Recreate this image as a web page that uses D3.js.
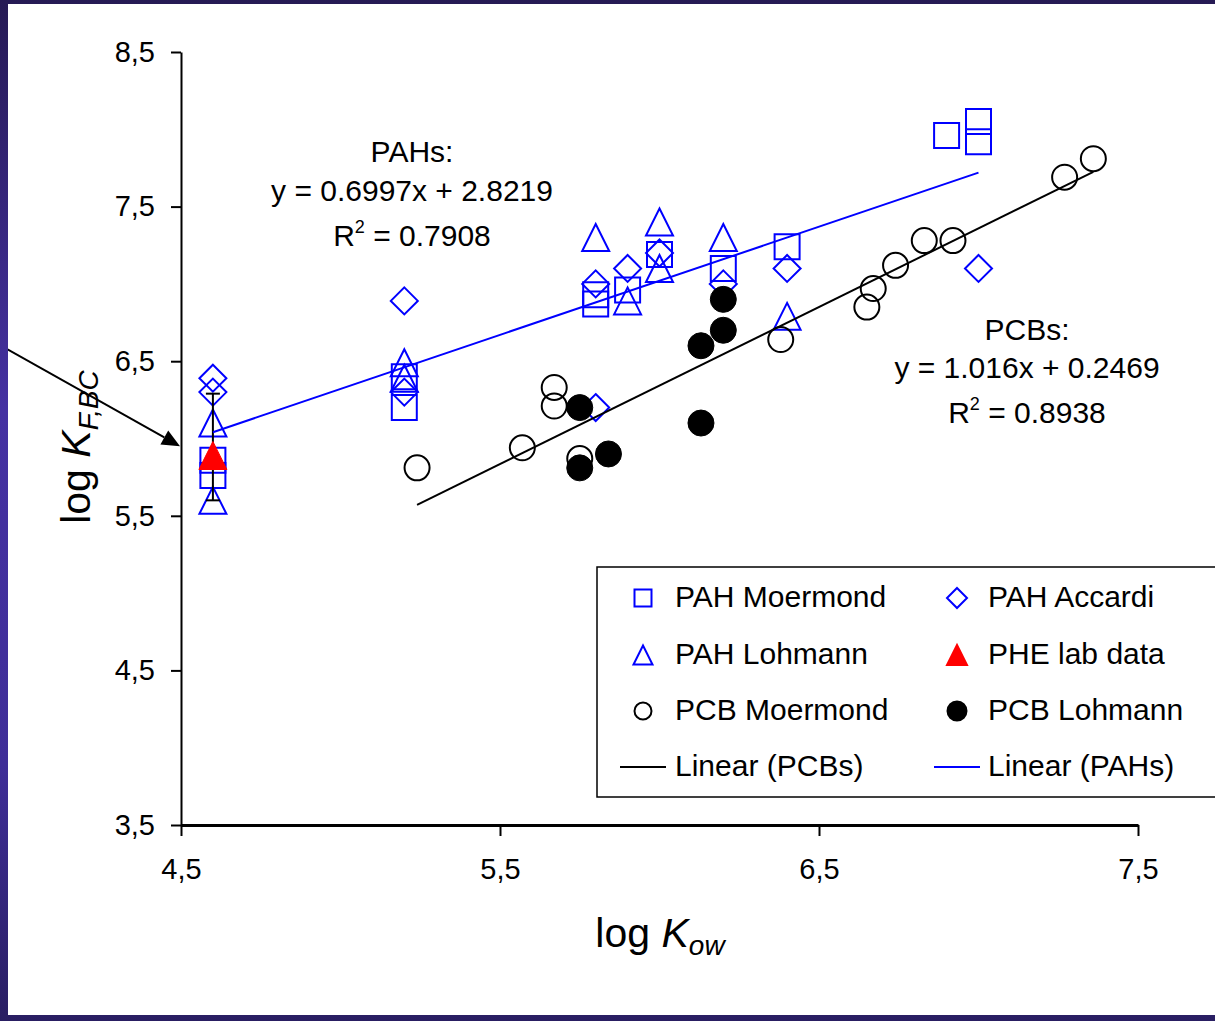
<!DOCTYPE html>
<html>
<head>
<meta charset="utf-8">
<script src="https://cdn.jsdelivr.net/npm/d3@7"></script>
<style>
  html, body { margin: 0; padding: 0; background: #fff; }
  svg { display: block; }
</style>
</head>
<body>
<svg id="chart" width="1215" height="1021"></svg>
<script>
// ---------- data (log Kow, log KF,BC) ----------
const pahMoermondX = [4.6, 4.6, 5.2, 5.2, 5.8, 5.8, 5.9, 6.0, 6.2, 6.4, 6.9, 7.0, 7.0];
const pahMoermondY = [5.86, 5.76, 6.40, 6.20, 6.93, 6.87, 6.96, 7.19, 7.10, 7.24, 7.96, 8.05, 7.92];

const pahAccardiX = [4.6, 4.6, 5.2, 5.2, 5.8, 5.8, 5.9, 6.0, 6.2, 6.4, 7.0];
const pahAccardiY = [6.39, 6.30, 6.89, 6.30, 7.00, 6.20, 7.10, 7.20, 7.00, 7.10, 7.10];

const pahLohmannX = [4.6, 4.6, 5.2, 5.2, 5.8, 5.9, 6.0, 6.0, 6.2, 6.4];
const pahLohmannY = [6.10, 5.60, 6.49, 6.39, 7.30, 6.89, 7.40, 7.10, 7.30, 6.79];

const pheLabX = [4.6];
const pheLabY = [5.89];
const pheLabLow = [5.60];
const pheLabHigh = [6.29];

const pcbMoermondX = [5.24, 5.57, 5.67, 5.67, 5.75, 6.38, 6.65, 6.67, 6.74, 6.83, 6.92, 7.27, 7.36];
const pcbMoermondY = [5.81, 5.94, 6.33, 6.21, 5.87, 6.64, 6.85, 6.97, 7.12, 7.28, 7.28, 7.69, 7.81];

const pcbLohmannX = [5.75, 5.75, 5.84, 6.13, 6.13, 6.20, 6.20];
const pcbLohmannY = [6.20, 5.81, 5.90, 6.60, 6.10, 6.90, 6.70];

// linear fits: [slope, intercept]
const pahFit = [0.6997, 2.8219];
const pcbFit = [1.016, 0.2469];

const xTicks = [4.5, 5.5, 6.5, 7.5];
const yTicks = [3.5, 4.5, 5.5, 6.5, 7.5, 8.5];
const arrowValue = 5.95;

const legendLabels = ["PAH Moermond", "PAH Accardi", "PAH Lohmann", "PHE lab data",
                      "PCB Moermond", "PCB Lohmann", "Linear (PCBs)", "Linear (PAHs)"];

// ---------- setup ----------
const W = 1215, H = 1021;
const FONT = "'Liberation Sans', Arial, Helvetica, sans-serif";
const BLUE = "#0000ff";
const svg = d3.select("#chart");

const defs = svg.append("defs");
const grad = defs.append("linearGradient").attr("id", "frameGrad")
  .attr("x1", 0).attr("y1", 0).attr("x2", 0).attr("y2", 1);
[["0%", "#261a54"], ["40%", "#4531a2"], ["75%", "#3f2e98"], ["100%", "#291e62"]]
  .forEach(([o, c]) => grad.append("stop").attr("offset", o).attr("stop-color", c));

const panel = { x: 8, y: 4, w: W - 8, h: 1011 };
svg.append("rect").attr("width", W).attr("height", H).attr("fill", "url(#frameGrad)");
svg.append("rect").attr("x", panel.x).attr("y", panel.y)
  .attr("width", panel.w).attr("height", panel.h).attr("fill", "#fff");
defs.append("clipPath").attr("id", "panelClip").append("rect")
  .attr("x", panel.x).attr("y", panel.y).attr("width", panel.w).attr("height", panel.h);

const g = svg.append("g").attr("clip-path", "url(#panelClip)");

const x = d3.scaleLinear().domain([4.5, 7.5]).range([181, 1138]);
const y = d3.scaleLinear().domain([3.5, 8.5]).range([825, 52]);
const fmt = d => d.toFixed(1).replace(".", ",");

// ---------- axes ----------
const xAxisG = g.append("g").attr("transform", `translate(0,${y.range()[0]})`)
  .call(d3.axisBottom(x).tickValues(xTicks).tickSize(11).tickSizeOuter(0)
    .tickPadding(22).tickFormat(fmt));
const yAxisG = g.append("g").attr("transform", `translate(${x.range()[0]},0)`)
  .call(d3.axisLeft(y).tickValues(yTicks).tickSize(10).tickSizeOuter(0)
    .tickPadding(16).tickFormat(fmt));
[xAxisG, yAxisG].forEach(a => {
  a.selectAll("text").attr("font-family", FONT).attr("font-size", 29).attr("fill", "#000");
  a.selectAll(".tick line").attr("stroke", "#000").attr("stroke-width", 2);
});
xAxisG.select(".domain").attr("stroke", "#000").attr("stroke-width", 3);
yAxisG.select(".domain").attr("stroke", "#000").attr("stroke-width", 2);

// ---------- symbol shapes ----------
const symSquare = { draw(ctx, size) { const s = Math.sqrt(size) / 2; ctx.rect(-s, -s, 2 * s, 2 * s); } };
const symDiamond = { draw(ctx, size) { const r = Math.sqrt(size) / 2;
  ctx.moveTo(0, -r); ctx.lineTo(r, 0); ctx.lineTo(0, r); ctx.lineTo(-r, 0); ctx.closePath(); } };
const symTriangle = { draw(ctx, size) { const r = Math.sqrt(size) / 2;
  ctx.moveTo(0, -r); ctx.lineTo(r, r); ctx.lineTo(-r, r); ctx.closePath(); } };
const symCircle = { draw(ctx, size) { const r = Math.sqrt(size) / 2;
  ctx.moveTo(r, 0); ctx.arc(0, 0, r, 0, 2 * Math.PI); } };

function drawSeries(xs, ys, type, size, fill, stroke, sw) {
  const pts = xs.map((v, i) => [v, ys[i]]);
  g.append("g").selectAll("path").data(pts).join("path")
    .attr("d", d3.symbol().type(type).size(size))
    .attr("transform", d => `translate(${x(d[0])},${y(d[1])})`)
    .attr("fill", fill).attr("stroke", stroke).attr("stroke-width", sw);
}

// ---------- markers ----------
drawSeries(pahMoermondX, pahMoermondY, symSquare, 625, "none", BLUE, 2);
drawSeries(pahAccardiX, pahAccardiY, symDiamond, 729, "none", BLUE, 2);
drawSeries(pahLohmannX, pahLohmannY, symTriangle, 729, "none", BLUE, 2);

// error bar for the lab value
const eb = g.append("g").attr("stroke", "#000").attr("stroke-width", 2);
pheLabX.forEach((v, i) => {
  const cx = x(v);
  eb.append("line").attr("x1", cx).attr("x2", cx).attr("y1", y(pheLabLow[i])).attr("y2", y(pheLabHigh[i]));
  [pheLabLow[i], pheLabHigh[i]].forEach(e =>
    eb.append("line").attr("x1", cx - 7).attr("x2", cx + 7).attr("y1", y(e)).attr("y2", y(e)));
});
drawSeries(pheLabX, pheLabY, symTriangle, 784, "#ff0000", "#ff0000", 1);

drawSeries(pcbMoermondX, pcbMoermondY, symCircle, 625, "none", "#000", 2);
drawSeries(pcbLohmannX, pcbLohmannY, symCircle, 676, "#000", "#000", 1);

// ---------- trendlines ----------
function trend(xsList, fit, color) {
  const ext = d3.extent(xsList.flat());
  g.append("line")
    .attr("x1", x(ext[0])).attr("y1", y(fit[0] * ext[0] + fit[1]))
    .attr("x2", x(ext[1])).attr("y2", y(fit[0] * ext[1] + fit[1]))
    .attr("stroke", color).attr("stroke-width", 2);
}
trend([pahMoermondX, pahAccardiX, pahLohmannX], pahFit, BLUE);
trend([pcbMoermondX, pcbLohmannX], pcbFit, "#000");

// ---------- equation labels ----------
function eqBlock(cx, baselines, title, fit, r2) {
  const t = g.append("g").attr("font-family", FONT).attr("font-size", 30).attr("fill", "#000")
    .attr("text-anchor", "middle");
  t.append("text").attr("x", cx).attr("y", baselines[0]).text(title);
  t.append("text").attr("x", cx).attr("y", baselines[1])
    .text(`y = ${fit[0]}x + ${fit[1]}`);
  const r = t.append("text").attr("x", cx).attr("y", baselines[2]);
  r.append("tspan").text("R");
  r.append("tspan").attr("font-size", 18).attr("dy", -13).text("2");
  r.append("tspan").attr("dy", 13).text(` = ${r2}`);
}
eqBlock(412, [162, 201, 246], "PAHs:", pahFit, "0.7908");
eqBlock(1027, [340, 378, 423], "PCBs:", pcbFit, "0.8938");

// ---------- axis titles ----------
const xt = g.append("text").attr("font-family", FONT).attr("font-size", 41).attr("fill", "#000")
  .attr("text-anchor", "middle").attr("x", 660).attr("y", 947);
xt.append("tspan").text("log ");
xt.append("tspan").attr("font-style", "italic").text("K");
xt.append("tspan").attr("font-style", "italic").attr("font-size", 28).attr("dy", 8).text("ow");

const yt = g.append("text").attr("font-family", FONT).attr("font-size", 41).attr("fill", "#000")
  .attr("text-anchor", "middle").attr("transform", "translate(90,447) rotate(-90)");
yt.append("tspan").text("log ");
yt.append("tspan").attr("font-style", "italic").text("K");
yt.append("tspan").attr("font-style", "italic").attr("font-size", 28).attr("dy", 8).text("F,BC");

// ---------- arrow pointing at the axis ----------
const tip = [x(4.5) - 1, y(arrowValue)];
const ang = Math.atan2(101, 180);
const headLen = 18, headHalf = 8;
const base = [tip[0] - headLen * Math.cos(ang), tip[1] - headLen * Math.sin(ang)];
g.append("line").attr("x1", tip[0] - 210 * Math.cos(ang)).attr("y1", tip[1] - 210 * Math.sin(ang))
  .attr("x2", base[0]).attr("y2", base[1]).attr("stroke", "#000").attr("stroke-width", 2);
g.append("path").attr("fill", "#000").attr("d", d3.line()([
  tip,
  [base[0] + headHalf * Math.sin(ang), base[1] - headHalf * Math.cos(ang)],
  [base[0] - headHalf * Math.sin(ang), base[1] + headHalf * Math.cos(ang)]
]) + "Z");

// ---------- legend ----------
const lg = g.append("g");
lg.append("rect").attr("x", 597).attr("y", 567).attr("width", 640).attr("height", 230)
  .attr("fill", "#fff").attr("stroke", "#000").attr("stroke-width", 1.5);
const legendSyms = [
  { type: symSquare, size: 289, fill: "none", stroke: BLUE },
  { type: symDiamond, size: 400, fill: "none", stroke: BLUE },
  { type: symTriangle, size: 361, fill: "none", stroke: BLUE },
  { type: symTriangle, size: 400, fill: "#ff0000", stroke: "#ff0000" },
  { type: symCircle, size: 289, fill: "none", stroke: "#000" },
  { type: symCircle, size: 361, fill: "#000", stroke: "#000" },
  { line: "#000" },
  { line: BLUE }
];
const colSym = [643, 957], colText = [675, 988], rowBase = [607, 664, 720, 776];
legendLabels.forEach((lab, i) => {
  const c = i % 2, r = Math.floor(i / 2);
  const s = legendSyms[i];
  const cy = rowBase[r] - 9;
  if (s.line) {
    lg.append("line").attr("x1", colSym[c] - 23).attr("x2", colSym[c] + 23)
      .attr("y1", cy).attr("y2", cy).attr("stroke", s.line).attr("stroke-width", 2);
  } else {
    lg.append("path").attr("d", d3.symbol().type(s.type).size(s.size))
      .attr("transform", `translate(${colSym[c]},${cy})`)
      .attr("fill", s.fill).attr("stroke", s.stroke).attr("stroke-width", 2);
  }
  lg.append("text").attr("x", colText[c]).attr("y", rowBase[r])
    .attr("font-family", FONT).attr("font-size", 30).attr("fill", "#000").text(lab);
});
</script>
</body>
</html>
